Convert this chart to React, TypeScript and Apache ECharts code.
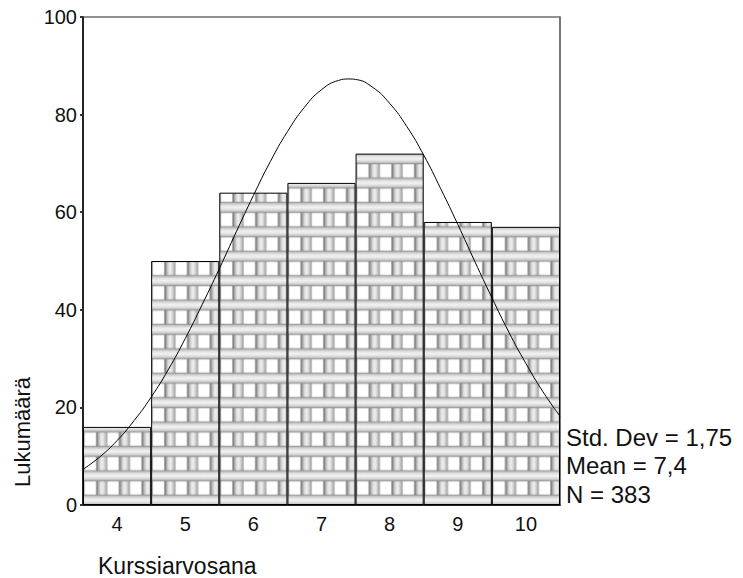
import React, { useEffect, useRef } from "react";
import * as echarts from "echarts";

// ---- data ----
const categories = ["4", "5", "6", "7", "8", "9", "10"];
const counts = [16, 50, 64, 66, 72, 58, 57];

// fitted normal curve (x in grade units, y in counts)
const curveX = [3.5, 3.75, 4, 4.25, 4.5, 4.75, 5, 5.25, 5.5, 5.75, 6, 6.25, 6.5, 6.75, 7, 7.25, 7.4, 7.5, 7.75, 8, 8.25, 8.5, 8.75, 9, 9.25, 9.5, 9.75, 10, 10.25, 10.5];
const curveY = [7.3, 9.9, 13.2, 17.3, 22.1, 27.7, 34.1, 41.1, 48.4, 56.0, 63.4, 70.4, 76.5, 81.5, 85.1, 87.0, 87.3, 87.2, 85.6, 82.3, 77.6, 71.7, 64.8, 57.5, 49.9, 42.5, 35.4, 29.0, 23.2, 18.2];

const statsLines = ["Std. Dev = 1,75", "Mean = 7,4", "N = 383"];
const yAxisTitle = "Lukumäärä";
const xAxisTitle = "Kurssiarvosana";

const FONT = "'Liberation Sans', Arial, sans-serif";

// plot area geometry
const PLOT_L = 83;
const PLOT_R = 560;
const PLOT_T = 17;
const PLOT_B = 505;
const TILE_W = (PLOT_R - PLOT_L) / 21;
const TILE_H = (PLOT_B - PLOT_T) / 20;

function makeTile(): HTMLCanvasElement {
  const s = 4;
  const c = document.createElement("canvas");
  c.width = Math.round(TILE_W * s);
  c.height = Math.round(TILE_H * s);
  const g = c.getContext("2d")!;
  g.fillStyle = "#ffffff";
  g.fillRect(0, 0, c.width, c.height);
  // vertical gray column
  const cw = 10 * s;
  const cx0 = (c.width - cw) / 2;
  const lg = g.createLinearGradient(cx0, 0, cx0 + cw, 0);
  lg.addColorStop(0, "#8e8e8e");
  lg.addColorStop(0.3, "#dcdcdc");
  lg.addColorStop(0.5, "#f2f2f2");
  lg.addColorStop(0.75, "#d0d0d0");
  lg.addColorStop(1, "#909090");
  g.fillStyle = lg;
  g.fillRect(cx0, 0, cw, c.height);
  g.fillStyle = "#3a3a3a";
  g.fillRect(cx0 - 0.8 * s, 0, 0.8 * s, c.height);
  // horizontal band
  const bh = 11 * s;
  const by0 = (c.height - bh) / 2;
  const vg = g.createLinearGradient(0, by0, 0, by0 + bh);
  vg.addColorStop(0, "#a8a8a8");
  vg.addColorStop(0.3, "#e2e2e2");
  vg.addColorStop(0.5, "#f4f4f4");
  vg.addColorStop(0.75, "#dadada");
  vg.addColorStop(1, "#a0a0a0");
  g.fillStyle = vg;
  g.fillRect(0, by0, c.width, bh);
  g.fillStyle = "#7a7a7a";
  g.fillRect(0, by0, c.width, 0.6 * s);
  g.fillRect(0, by0 + bh - 0.6 * s, c.width, 0.6 * s);
  return c;
}

export default function App() {
  const ref = useRef<HTMLDivElement>(null);
  useEffect(() => {
    if (!ref.current) return;
    const chart = echarts.init(ref.current, null, { renderer: "svg" });
    const tile = makeTile();
    const pattern: any = {
      image: tile,
      repeat: "repeat",
      imageWidth: TILE_W,
      imageHeight: TILE_H,
      x: PLOT_L - TILE_W / 2,
      y: PLOT_B - TILE_H / 2,
    };
    const curveData = curveX.map((x, i) => [x, curveY[i]]);
    chart.setOption({
      animation: false,
      backgroundColor: "#ffffff",
      grid: {
        left: PLOT_L,
        right: 743 - PLOT_R,
        top: PLOT_T,
        bottom: 578 - PLOT_B,
        show: true,
        borderColor: "#222",
        borderWidth: 1,
        outerBoundsMode: "none",
      },
      xAxis: [
        {
          type: "category",
          data: categories,
          axisLine: { lineStyle: { color: "#000", width: 1.5 } },
          axisTick: { alignWithLabel: true, length: 3, lineStyle: { color: "#333", width: 2 } },
          axisLabel: { color: "#111", fontFamily: FONT, fontSize: 20, margin: 9 },
          splitLine: { show: false },
        },
        { type: "value", min: 3.5, max: 10.5, show: false },
      ],
      yAxis: [
        {
          type: "value",
          min: 0,
          max: 100,
          interval: 20,
          axisLine: { show: true, lineStyle: { color: "#000", width: 1.5 } },
          axisTick: { show: true, length: 3, lineStyle: { color: "#333", width: 2 } },
          axisLabel: { color: "#111", fontFamily: FONT, fontSize: 20, margin: 6, padding: [8, 0, 0, 0] },
          splitLine: { show: false },
        },
        {
          type: "value",
          min: 0,
          max: 100,
          interval: 20,
          position: "right",
          axisLine: { show: true, lineStyle: { color: "#777", width: 2 } },
          axisTick: { show: false },
          axisLabel: { show: false },
          splitLine: { show: false },
        },
      ],
      series: [
        {
          type: "bar",
          data: counts,
          barCategoryGap: "0%",
          itemStyle: { color: pattern, borderColor: "#000", borderWidth: 1 },
          xAxisIndex: 0,
          yAxisIndex: 0,
        },
        {
          type: "line",
          data: curveData,
          xAxisIndex: 1,
          yAxisIndex: 0,
          smooth: true,
          showSymbol: false,
          lineStyle: { color: "#000", width: 1 },
          z: 5,
        },
      ],
      graphic: [
        {
          type: "text",
          x: 22,
          y: 432,
          rotation: Math.PI / 2,
          style: {
            text: yAxisTitle,
            font: `22px ${FONT}`,
            fill: "#111",
            align: "center",
            verticalAlign: "middle",
          },
        },
        {
          type: "text",
          x: 98,
          y: 566,
          style: {
            text: xAxisTitle,
            font: `23px ${FONT}`,
            fill: "#111",
            align: "left",
            verticalAlign: "middle",
          },
        },
        ...statsLines.map((t, i) => ({
          type: "text",
          x: 566,
          y: 437 + i * 28.5,
          style: {
            text: t,
            font: `24px ${FONT}`,
            fill: "#111",
            align: "left",
            verticalAlign: "middle",
          },
        })),
      ],
    });
    return () => chart.dispose();
  }, []);
  return (
    <div
      ref={ref}
      style={{ position: "absolute", left: 0, top: 0, width: 743, height: 578 }}
    />
  );
}
